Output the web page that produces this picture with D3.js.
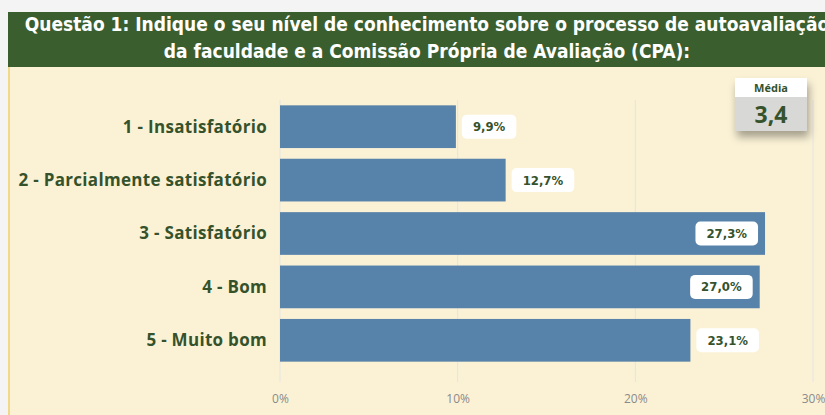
<!DOCTYPE html>
<html>
<head>
<meta charset="utf-8">
<script src="https://cdn.jsdelivr.net/npm/d3@7"></script>
<style>
  body { margin: 0; background: #ffffff; }
  svg { display: block; }
</style>
</head>
<body>
<svg id="chart" width="825" height="415"></svg>
<script>
// chart data
const categories = [
  "1 - Insatisfatório",
  "2 - Parcialmente satisfatório",
  "3 - Satisfatório",
  "4 - Bom",
  "5 - Muito bom"
];
const values = [9.9, 12.7, 27.3, 27.0, 23.1];
const ticks = [0, 10, 20, 30];
const titleLines = [
  "Questão 1: Indique o seu nível de conhecimento sobre o processo de autoavaliação",
  "da faculdade e a Comissão Própria de Avaliação (CPA):"
];
const mediaLabel = "Média";
const mediaValue = "3,4";

const svg = d3.select("#chart");
const W = 825, H = 415;
const green = "#3b5e2f";
const textGreen = "#35522c";

// background panels
svg.append("rect").attr("x", 0).attr("y", 0).attr("width", W).attr("height", H).attr("fill", "#f4f4f4");
svg.append("rect").attr("x", 8).attr("y", 12).attr("width", W - 8).attr("height", H - 12).attr("fill", "#fbf2d6");
svg.append("line").attr("x1", 9).attr("x2", 9).attr("y1", 60).attr("y2", H)
  .attr("stroke", "#f1d98a").attr("stroke-width", 2);

// header
svg.append("rect").attr("x", 8).attr("y", 12).attr("width", W - 8).attr("height", 55).attr("fill", green);
svg.selectAll(".title").data(titleLines).enter().append("text")
  .attr("class", "title")
  .attr("x", 427)
  .attr("y", (d, i) => 31 + i * 27)
  .attr("text-anchor", "middle")
  .attr("fill", "#ffffff")
  .attr("font-family", "'DejaVu Sans Condensed', 'DejaVu Sans', sans-serif")
  .attr("font-weight", "bold")
  .attr("font-size", 19)
  .text(d => d);

// scales
const x = d3.scaleLinear().domain([0, 30]).range([280, 813]);
const y = d3.scaleBand().domain(categories).range([100, 367]).paddingInner(0.2).paddingOuter(0.1);

// gridlines
svg.selectAll(".grid").data(ticks).enter().append("line")
  .attr("class", "grid")
  .attr("x1", d => x(d)).attr("x2", d => x(d))
  .attr("y1", 100).attr("y2", 382)
  .attr("stroke", "#e4e4e4").attr("stroke-width", 1);

// x axis labels
const xAxis = svg.append("g").attr("transform", "translate(0,382)")
  .call(d3.axisBottom(x).tickValues(ticks).tickSize(0).tickPadding(12).tickFormat(d => d + "%"));
xAxis.select(".domain").remove();
xAxis.selectAll("text")
  .attr("fill", "#8a8a8a")
  .attr("font-family", "'Open Sans', sans-serif")
  .attr("font-size", 12);

// bars
svg.selectAll(".bar").data(values).enter().append("rect")
  .attr("class", "bar")
  .attr("x", x(0))
  .attr("y", (d, i) => y(categories[i]))
  .attr("width", d => x(d) - x(0))
  .attr("height", y.bandwidth())
  .attr("fill", "#5782aa");

// category labels
svg.selectAll(".cat").data(categories).enter().append("text")
  .attr("class", "cat")
  .attr("x", 267)
  .attr("y", d => y(d) + y.bandwidth() / 2)
  .attr("dy", "0.35em")
  .attr("text-anchor", "end")
  .attr("fill", textGreen)
  .attr("font-family", "'Open Sans', sans-serif")
  .attr("font-weight", "bold")
  .attr("font-size", 17)
  .attr("letter-spacing", 0.3)
  .text(d => d);

// value labels
const fmt = v => v.toFixed(1).replace(".", ",") + "%";
const lbl = svg.selectAll(".vl").data(values).enter().append("g").attr("class", "vl");
lbl.each(function(d, i) {
  const g = d3.select(this);
  const t = g.append("text")
    .attr("fill", textGreen)
    .attr("font-family", "'DejaVu Sans Condensed', 'DejaVu Sans', sans-serif")
    .attr("font-weight", "bold")
    .attr("font-size", 13)
    .attr("text-anchor", "middle")
    .attr("dy", "0.35em")
    .text(fmt(d));
  const tw = t.node().getComputedTextLength();
  const bw = tw + 22, bh = 24;
  const inside = d > 25;
  const bx = inside ? x(d) - 7 - bw : x(d) + 6;
  const cy = y(categories[i]) + y.bandwidth() / 2;
  g.insert("rect", "text")
    .attr("x", bx).attr("y", cy - bh / 2)
    .attr("width", bw).attr("height", bh)
    .attr("rx", 5).attr("fill", "#ffffff");
  t.attr("x", bx + bw / 2).attr("y", cy);
});

// média box
const defs = svg.append("defs");
const f = defs.append("filter").attr("id", "shadow").attr("x", "-30%").attr("y", "-30%").attr("width", "160%").attr("height", "180%");
f.append("feDropShadow").attr("dx", 2).attr("dy", 6).attr("stdDeviation", 4).attr("flood-color", "#000").attr("flood-opacity", 0.35);
const mb = svg.append("g");
mb.append("rect").attr("x", 735).attr("y", 78).attr("width", 72).attr("height", 53)
  .attr("fill", "#d8d8d6").attr("filter", "url(#shadow)");
mb.append("rect").attr("x", 735).attr("y", 78).attr("width", 72).attr("height", 19).attr("fill", "#ffffff");
mb.append("text").attr("x", 771).attr("y", 92).attr("text-anchor", "middle")
  .attr("fill", textGreen).attr("font-family", "'Open Sans', sans-serif")
  .attr("font-weight", "bold").attr("font-size", 11).text(mediaLabel);
mb.append("text").attr("x", 771).attr("y", 123).attr("text-anchor", "middle")
  .attr("fill", textGreen).attr("font-family", "'Open Sans', sans-serif")
  .attr("font-weight", "bold").attr("font-size", 23).text(mediaValue);
</script>
</body>
</html>
